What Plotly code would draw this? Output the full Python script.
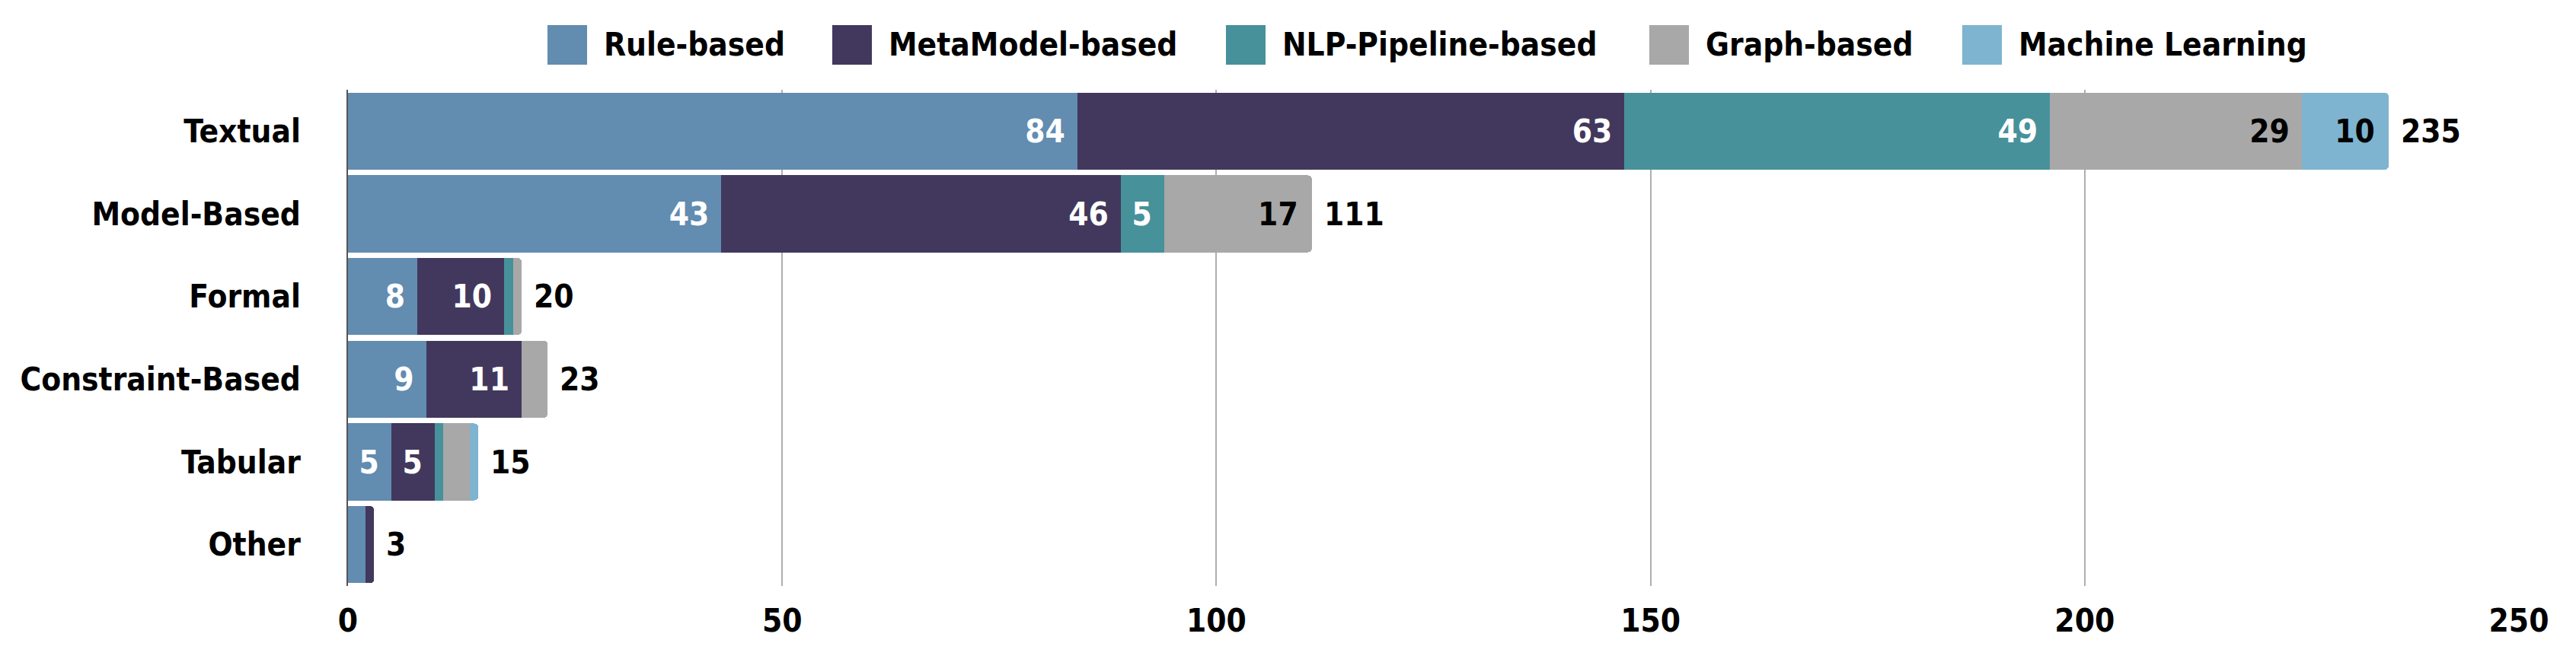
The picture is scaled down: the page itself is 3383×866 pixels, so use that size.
import plotly.graph_objects as go

# ---------------- data ----------------
categories = ["Textual", "Model-Based", "Formal", "Constraint-Based", "Tabular", "Other"]
series_names = ["Rule-based", "MetaModel-based", "NLP-Pipeline-based", "Graph-based", "Machine Learning"]
rule_based = [84, 43, 8, 9, 5, 2]
metamodel_based = [63, 46, 10, 11, 5, 1]
nlp_pipeline_based = [49, 5, 1, None, 1, None]
graph_based = [29, 17, 1, 3, 3, None]
machine_learning = [10, None, None, None, 1, None]
x_ticks = [0, 50, 100, 150, 200, 250]

series_values = [rule_based, metamodel_based, nlp_pipeline_based, graph_based, machine_learning]

# ---------------- style ----------------
colors = ["#628CB0", "#42385D", "#47919A", "#A8A8A8", "#7EB4CF"]
label_colors = ["white", "white", "white", "black", "black"]
FONT = "DejaVu Sans Condensed, DejaVu Sans"
FS = 42
OFF = 8  # default body margin of the html page
WIN_W, WIN_H = 3383, 866
W, H = WIN_W - 2 * OFF, WIN_H - 2 * OFF
# plot area in window pixels
PL, PR, PT, PB = 457, 3308, 118, 770
L, R, T, B = PL - OFF, W - (PR - OFF), PT - OFF, H - (PB - OFF)
PW, PH = W - L - R, H - T - B


def px_x(px):
    return (px - OFF - L) / PW


def px_y(py):
    return (H - B - (py - OFF)) / PH


fig = go.Figure()
for name, vals, col, lcol in zip(series_names, series_values, colors, label_colors):
    texts = [f"{v}\u00a0" if (v is not None and v >= 5) else "" for v in vals]
    fig.add_trace(go.Bar(
        name=name, y=categories, x=vals, orientation="h",
        marker=dict(color=col, line=dict(width=0)),
        text=texts, textposition="inside", insidetextanchor="end",
        textfont=dict(color=lcol, size=FS, family=FONT, weight="bold"),
        textangle=0, constraintext="none",
        showlegend=False, hoverinfo="x+name",
    ))

# totals
totals = [sum(v for v in col if v is not None) for col in zip(*series_values)]
annotations = []
for cat, tot in zip(categories, totals):
    annotations.append(dict(
        x=tot, y=cat, xref="x", yref="y", text=str(tot), showarrow=False,
        xanchor="left", xshift=14, font=dict(size=FS, color="black", family=FONT, weight="bold"),
    ))

# custom legend (large square swatches), window pixel positions
legend_box_x = [719, 1093, 1610, 2166, 2577]
BOX = 52
box_top, box_bot = 33, 85
shapes = []
for name, col, bx in zip(series_names, colors, legend_box_x):
    shapes.append(dict(
        type="rect", xref="paper", yref="paper",
        x0=px_x(bx), x1=px_x(bx + BOX), y0=px_y(box_bot), y1=px_y(box_top),
        fillcolor=col, line=dict(width=0),
    ))
    annotations.append(dict(
        x=px_x(bx + BOX + 20), y=px_y((box_top + box_bot) / 2), xref="paper", yref="paper",
        text=name, showarrow=False, xanchor="left", yanchor="middle",
        font=dict(size=FS, color="black", family=FONT, weight="bold"),
    ))

fig.update_layout(
    width=W, height=H,
    margin=dict(l=L, r=R, t=T, b=B, pad=0),
    barmode="stack", bargap=0.07, barcornerradius=5,
    plot_bgcolor="white", paper_bgcolor="white",
    font=dict(family=FONT, size=FS, color="black", weight="bold"),
    showlegend=False,
    shapes=shapes, annotations=annotations,
    uniformtext=dict(mode=False),
)
fig.update_xaxes(
    range=[0, 250], tickvals=x_ticks, ticktext=[str(t) for t in x_ticks],
    showgrid=True, gridcolor="#AFAFAF", gridwidth=1.5, zeroline=False,
    showline=False, ticks="", ticklabelstandoff=17,
    tickfont=dict(size=FS, family=FONT, weight="bold", color="black"),
)
fig.update_yaxes(
    categoryorder="array", categoryarray=categories, autorange="reversed",
    showgrid=False, zeroline=False, showline=True, linecolor="#555555", linewidth=1.5,
    ticks="", ticklabelstandoff=52,
    tickfont=dict(size=FS, family=FONT, weight="bold", color="black"),
)

fig.write_html("out.html")
